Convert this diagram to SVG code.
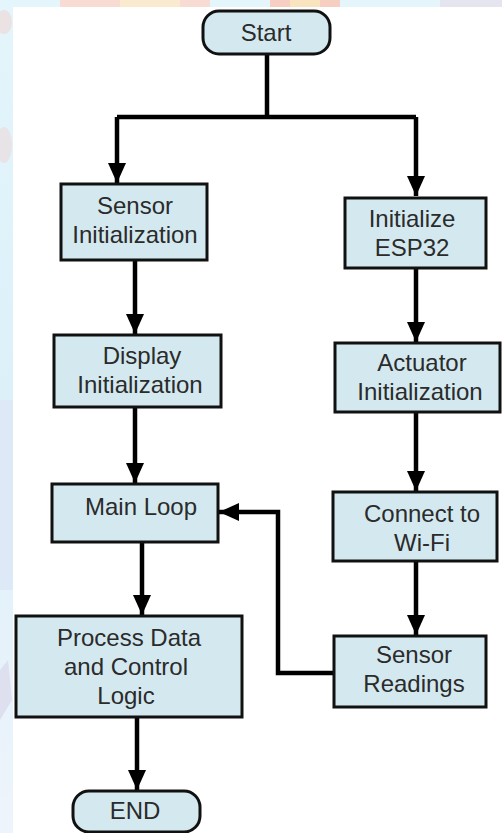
<svg xmlns="http://www.w3.org/2000/svg" width="502" height="833" viewBox="0 0 502 833">
  <defs>
    <style>
      .box { fill: #d3e9ef; stroke: #111; stroke-width: 3; }
      .lbl { font-family: "Liberation Sans", Arial, sans-serif; font-size: 24px; fill: #2b2b2b; text-anchor: middle; }
      .wire { fill: none; stroke: #000; stroke-width: 4.5; stroke-linejoin: miter; }
    </style>
    <marker id="arrow" markerUnits="userSpaceOnUse" markerWidth="20" markerHeight="18" refX="20" refY="9" orient="auto">
      <path d="M0,0 L20,9 L0,18 Z" fill="#000"/>
    </marker>
    <linearGradient id="edgeLeft" x1="0" y1="0" x2="0" y2="1">
      <stop offset="0" stop-color="#e4f5fb"/>
      <stop offset="0.5" stop-color="#dcf0fa"/>
      <stop offset="1" stop-color="#eef4fb"/>
    </linearGradient>
  </defs>

  <!-- backdrop -->
  <rect x="0" y="0" width="502" height="833" fill="url(#edgeLeft)"/>
  <rect x="60" y="0" width="150" height="8" fill="#f8dcd4"/>
  <rect x="120" y="0" width="60" height="8" fill="#f9ead0"/>
  <rect x="270" y="0" width="70" height="8" fill="#f6cfc2"/>
  <rect x="290" y="0" width="30" height="8" fill="#f9e4c0"/>
  <rect x="440" y="0" width="62" height="8" fill="#e4e5ee"/>
  <ellipse cx="4" cy="22" rx="8" ry="12" fill="#f6c6c0" opacity="0.4"/>
  <ellipse cx="4" cy="145" rx="8" ry="18" fill="#f6c6c0" opacity="0.35"/>
  <rect x="0" y="400" width="13" height="190" fill="#dde9f6"/>
  <path d="M0,670 L8,660 L12,700 L0,720 Z" fill="#dfe0ef"/>
  <rect x="13" y="7" width="489" height="826" fill="#ffffff"/>

  <!-- connectors -->
  <g id="connectors">
    <path class="wire" d="M267,54 V117"/>
    <path class="wire" d="M117,117 H416"/>
    <path class="wire" d="M117,117 V183" marker-end="url(#arrow)"/>
    <path class="wire" d="M416,117 V196" marker-end="url(#arrow)"/>
    <path class="wire" d="M135,260 V334" marker-end="url(#arrow)"/>
    <path class="wire" d="M416,268 V342" marker-end="url(#arrow)"/>
    <path class="wire" d="M135,407 V483" marker-end="url(#arrow)"/>
    <path class="wire" d="M416,412 V491" marker-end="url(#arrow)"/>
    <path class="wire" d="M142,542 V615" marker-end="url(#arrow)"/>
    <path class="wire" d="M416,561 V635" marker-end="url(#arrow)"/>
    <path class="wire" d="M334,673 H278 V512 H219" marker-end="url(#arrow)"/>
    <path class="wire" d="M137,717 V790" marker-end="url(#arrow)"/>
  </g>

  <!-- nodes -->
  <g id="start">
    <rect class="box" x="203" y="11" width="127" height="43" rx="16"/>
    <text class="lbl" x="266" y="41">Start</text>
  </g>
  <g id="sensor-init">
    <rect class="box" x="61" y="184" width="146" height="76"/>
    <text class="lbl" x="135" y="214">Sensor</text>
    <text class="lbl" x="135" y="243">Initialization</text>
  </g>
  <g id="init-esp32">
    <rect class="box" x="345" y="198" width="141" height="70"/>
    <text class="lbl" x="412" y="227">Initialize</text>
    <text class="lbl" x="412" y="256">ESP32</text>
  </g>
  <g id="display-init">
    <rect class="box" x="54" y="335" width="167" height="72"/>
    <text class="lbl" x="142" y="364">Display</text>
    <text class="lbl" x="140" y="393">Initialization</text>
  </g>
  <g id="actuator-init">
    <rect class="box" x="335" y="343" width="165" height="69"/>
    <text class="lbl" x="422" y="371">Actuator</text>
    <text class="lbl" x="420" y="400">Initialization</text>
  </g>
  <g id="main-loop">
    <rect class="box" x="52" y="484" width="166" height="58"/>
    <text class="lbl" x="141" y="515">Main Loop</text>
  </g>
  <g id="connect-wifi">
    <rect class="box" x="333" y="492" width="164" height="69"/>
    <text class="lbl" x="422" y="522">Connect to</text>
    <text class="lbl" x="422" y="551">Wi-Fi</text>
  </g>
  <g id="process-data">
    <rect class="box" x="16" y="616" width="226" height="101"/>
    <text class="lbl" x="129" y="646">Process Data</text>
    <text class="lbl" x="126" y="675">and Control</text>
    <text class="lbl" x="126" y="704">Logic</text>
  </g>
  <g id="sensor-readings">
    <rect class="box" x="334" y="636" width="152" height="71"/>
    <text class="lbl" x="414" y="663">Sensor</text>
    <text class="lbl" x="414" y="692">Readings</text>
  </g>
  <g id="end">
    <rect class="box" x="73" y="791" width="127" height="41" rx="16"/>
    <text class="lbl" x="135" y="819">END</text>
  </g>
</svg>
